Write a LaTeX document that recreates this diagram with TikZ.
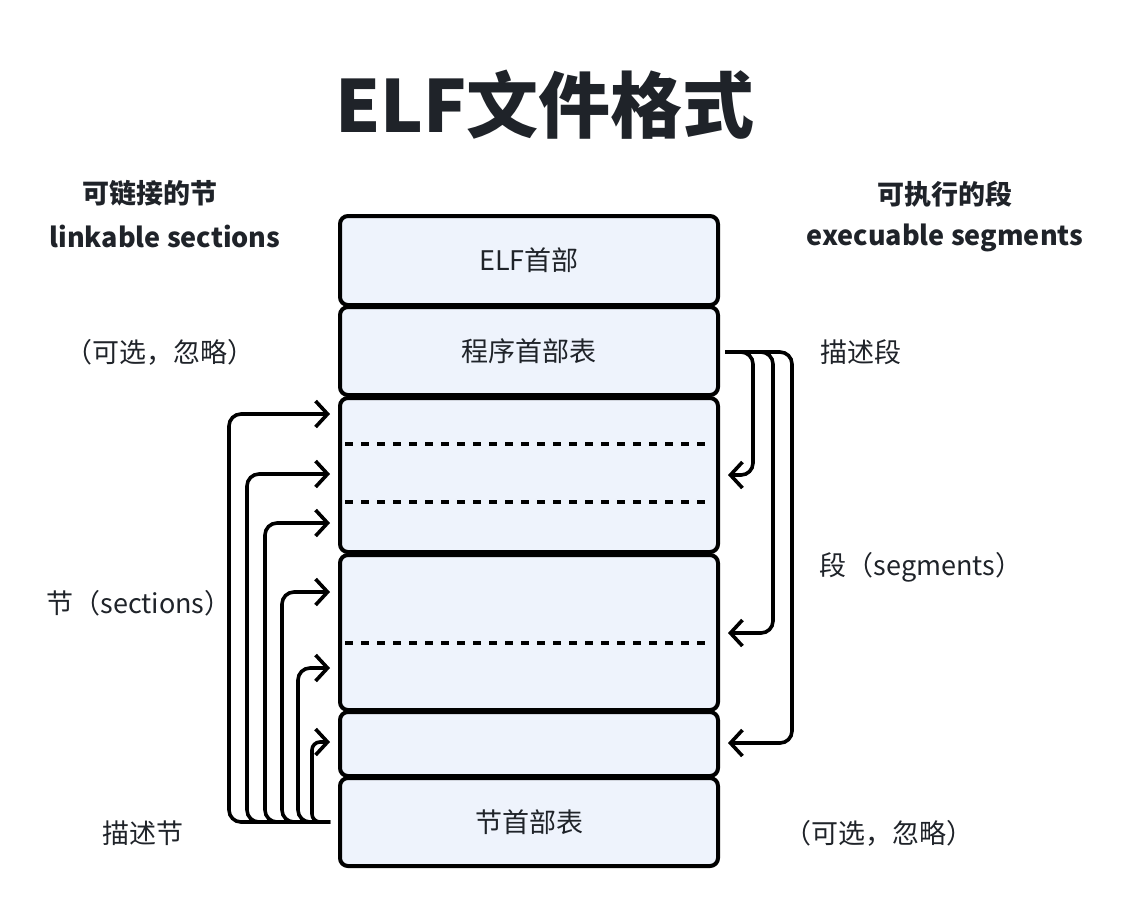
\documentclass[tikz,border=0pt]{standalone}
\usepackage{fontspec}
\setmainfont{Noto Sans CJK SC}
\usepackage{xcolor}
\usetikzlibrary{arrows.meta}
\definecolor{ink}{HTML}{1F2329}
\definecolor{boxfill}{HTML}{EEF3FC}
\tikzset{
  part/.style={draw=black, fill=boxfill, line width=2pt, rounded corners=4pt,
    minimum width=189pt, inner sep=0pt, text=ink, font=\fontsize{13.5}{16}\selectfont},
  cut/.style={line width=1.6pt, dash pattern=on 4pt off 4pt},
  link/.style={line width=1.8pt, rounded corners=6pt, -{Straight Barb[length=6pt,width=13pt]}},
  lbl/.style={text=ink, font=\fontsize{13.5}{16}\selectfont},
  head/.style={text=ink, font=\bfseries\fontsize{13.5}{16}\selectfont}
}
\begin{document}
\begin{tikzpicture}[x=0.5pt,y=-0.5pt]
\useasboundingbox (0,0) rectangle (1134,918);

\node[text=ink, font=\bfseries\fontsize{36}{40}\selectfont] (title) at (545,105) {ELF文件格式};

\node[head] (lh1) at (150,193) {可链接的节};
\node[head] (lh2) at (165,236) {linkable sections};
\node[head] (rh1) at (945,194) {可执行的段};
\node[head] (rh2) at (945,238) {execuable segments};

% the file
\node[part, minimum height=44.5pt] (elf) at (529,260.5) {ELF首部};
\node[part, minimum height=44pt] (pht) at (529,351) {程序首部表};
\node[part, minimum height=77pt] (segA) at (529,475) {};
\node[part, minimum height=77.5pt] (segB) at (529,632.5) {};
\node[part, minimum height=32pt] (segC) at (529,744) {};
\node[part, minimum height=44pt] (sht) at (529,822) {节首部表};

\draw[cut] (345,444) -- (712,444);
\draw[cut] (345,502) -- (712,502);
\draw[cut] (345,643) -- (712,643);

% side labels
\node[lbl] (optl) at (160,352) {（可选，忽略）};
\node[lbl] (descseg) at (861,352) {描述段};
\node[lbl] (secs) at (139,603) {节（sections）};
\node[lbl] (segs) at (921,567) {段（segments）};
\node[lbl] (descsec) at (143,833) {描述节};
\node[lbl] (optr) at (879,833) {（可选，忽略）};

% sections
\coordinate (ls) at (330,822);
\coordinate (s1) at (330,414);
\coordinate (s2) at (330,474);
\coordinate (s3) at (330,523);
\coordinate (s4) at (330,592);
\coordinate (s5) at (330,668);
\coordinate (s6) at (330,742);
\draw[link] (ls) -| (229,414) -- (s1);
\draw[link] (ls) -| (247,474) -- (s2);
\draw[link] (ls) -| (265,523) -- (s3);
\draw[link] (ls) -| (282,592) -- (s4);
\draw[link] (ls) -| (298,668) -- (s5);
\draw[link, rounded corners=4pt] (ls) -| (312,742) -- (s6);

% segments
\coordinate (rs) at (725,352);
\coordinate (g1) at (728,475);
\coordinate (g2) at (728,633);
\coordinate (g3) at (728,743);
\draw[link] (rs) -| (753,475) -- (g1);
\draw[link] (rs) -| (773,633) -- (g2);
\draw[link] (rs) -| (792,743) -- (g3);

\end{tikzpicture}
\end{document}
